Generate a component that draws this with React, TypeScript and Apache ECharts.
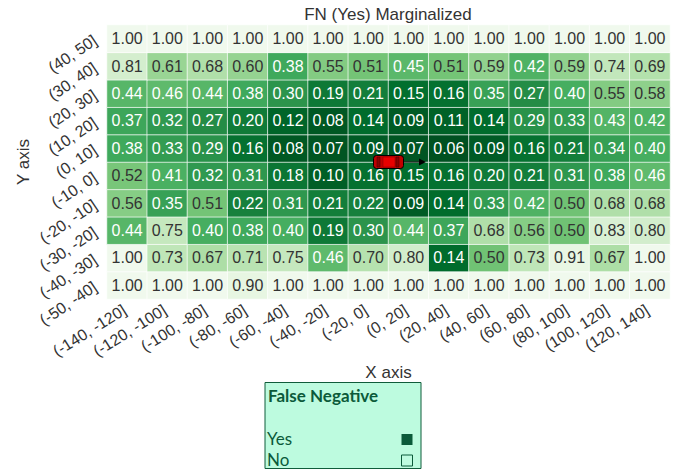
import React, { useEffect, useRef } from "react";
import * as echarts from "echarts";

const xCategories = ["(-140, -120]","(-120, -100]","(-100, -80]","(-80, -60]","(-60, -40]","(-40, -20]","(-20, 0]","(0, 20]","(20, 40]","(40, 60]","(60, 80]","(80, 100]","(100, 120]","(120, 140]"];
const yCategories = ["(-50, -40]","(-40, -30]","(-30, -20]","(-20, -10]","(-10, 0]","(0, 10]","(10, 20]","(20, 30]","(30, 40]","(40, 50]"];
const row40to50 = [1,1,1,1,1,1,1,1,1,1,1,1,1,1];
const row30to40 = [0.81,0.61,0.68,0.60,0.38,0.55,0.51,0.45,0.51,0.59,0.42,0.59,0.74,0.69];
const row20to30 = [0.44,0.46,0.44,0.38,0.30,0.19,0.21,0.15,0.16,0.35,0.27,0.40,0.55,0.58];
const row10to20 = [0.37,0.32,0.27,0.20,0.12,0.08,0.14,0.09,0.11,0.14,0.29,0.33,0.43,0.42];
const row0to10 = [0.38,0.33,0.29,0.16,0.08,0.07,0.09,0.07,0.06,0.09,0.16,0.21,0.34,0.40];
const rowM10to0 = [0.52,0.41,0.32,0.31,0.18,0.10,0.16,0.15,0.16,0.20,0.21,0.31,0.38,0.46];
const rowM20toM10 = [0.56,0.35,0.51,0.22,0.31,0.21,0.22,0.09,0.14,0.33,0.42,0.50,0.68,0.68];
const rowM30toM20 = [0.44,0.75,0.40,0.38,0.40,0.19,0.30,0.44,0.37,0.68,0.56,0.50,0.83,0.80];
const rowM40toM30 = [1.00,0.73,0.67,0.71,0.75,0.46,0.70,0.80,0.14,0.50,0.73,0.91,0.67,1.00];
const rowM50toM40 = [1,1,1,0.90,1,1,1,1,1,1,1,1,1,1];
const rowsBottomUp = [rowM50toM40,rowM40toM30,rowM30toM20,rowM20toM10,rowM10to0,row0to10,row10to20,row20to30,row30to40,row40to50];
const greens = ["#00441b","#006d2c","#238b45","#41ab5d","#74c476","#a1d99b","#c7e9c0","#e5f5e0","#f0f9ed"];

const ink = "#333333";
const font = "Liberation Sans";
const legendInk = "#0b5a3a";
const legendFill = "#bdfbdf";

export default function App() {
  const ref = useRef<HTMLDivElement>(null);
  useEffect(() => {
    document.body.style.margin = "0";
    const chart = echarts.init(ref.current!, undefined, { renderer: "svg" });
    const data: any[] = [];
    rowsBottomUp.forEach((row, y) => row.forEach((v, x) => {
      data.push({ value: [x, y, v], label: { color: v < 0.5 ? "#ffffff" : ink } });
    }));
    chart.setOption({
      animation: false,
      backgroundColor: "#ffffff",
      textStyle: { fontFamily: font },
      title: { text: "FN (Yes) Marginalized", left: 383, top: 1, textAlign: "center", textStyle: { fontSize: 17, fontWeight: "normal", color: ink, fontFamily: font } },
      grid: { left: 107, top: 25, width: 563, height: 274, outerBoundsMode: "none" },
      xAxis: {
        type: "category", data: xCategories, name: "X axis", nameLocation: "middle", nameGap: 65, nameMoveOverlap: false,
        nameTextStyle: { fontSize: 17, color: ink, fontFamily: font },
        axisLine: { show: false }, axisTick: { show: false }, splitLine: { show: false }, splitArea: { show: false },
        axisLabel: { rotate: 32, interval: 0, fontSize: 16, color: ink, fontFamily: font, margin: 8, padding: [0, 3, 0, 0] },
      },
      yAxis: {
        type: "category", data: yCategories, name: "Y axis", nameLocation: "middle", nameGap: 75, nameRotate: 90, nameMoveOverlap: false,
        nameTextStyle: { fontSize: 17, color: ink, fontFamily: font },
        axisLine: { show: false }, axisTick: { show: false }, splitLine: { show: false }, splitArea: { show: false },
        axisLabel: { rotate: 34, interval: 0, fontSize: 16, color: ink, fontFamily: font, margin: 12 },
      },
      visualMap: { show: false, min: 0.02, max: 1, dimension: 2, inRange: { color: greens } },
      series: [{
        type: "heatmap", data,
        itemStyle: { borderColor: "rgba(255,255,255,0.7)", borderWidth: 1, borderType: "solid", opacity: 1 },
        label: { show: true, fontSize: 16, fontFamily: font, formatter: (p: any) => p.value[2].toFixed(2) },
        emphasis: { disabled: true },
      }],
      graphic: [
        { type: "line", z: 100, shape: { x1: 400, y1: 162, x2: 420, y2: 162 }, style: { stroke: "#000000", lineWidth: 1 } },
        { type: "polygon", z: 100, shape: { points: [[419, 158.5], [426, 162], [419, 165.5]] }, style: { fill: "#000000" } },
        { type: "rect", z: 101, shape: { x: 373.5, y: 155.5, width: 30, height: 13, r: 3 }, style: { fill: "#c00000", stroke: "#000000", lineWidth: 1 } },
        { type: "rect", z: 102, shape: { x: 383, y: 157, width: 12, height: 10 }, style: { fill: "#e80000", stroke: "#800000", lineWidth: 0.5 } },
        { type: "rect", z: 102, shape: { x: 396, y: 157, width: 3, height: 10 }, style: { fill: "#8a0000", stroke: "#400000", lineWidth: 0.5 } },
        { type: "rect", z: 102, shape: { x: 377, y: 157, width: 3, height: 10 }, style: { fill: "#8a0000", stroke: "#400000", lineWidth: 0.5 } },
        { type: "rect", shape: { x: 265, y: 382.5, width: 156, height: 86 }, style: { fill: legendFill, stroke: "#0f5c3a", lineWidth: 1 } },
        { type: "text", x: 268, y: 387, style: { text: "False Negative", font: "bold 17px Lato", fill: legendInk } },
        { type: "text", x: 267, y: 430, style: { text: "Yes", font: "17px Lato", fill: legendInk } },
        { type: "text", x: 267, y: 451, style: { text: "No", font: "17px Lato", fill: legendInk } },
        { type: "rect", shape: { x: 401.5, y: 434, width: 11, height: 11 }, style: { fill: legendInk } },
        { type: "rect", shape: { x: 401.5, y: 455, width: 11, height: 11 }, style: { fill: legendFill, stroke: legendInk, lineWidth: 1 } },
      ],
    });
    return () => chart.dispose();
  }, []);
  return <div ref={ref} style={{ width: 689, height: 472 }} />;
}
